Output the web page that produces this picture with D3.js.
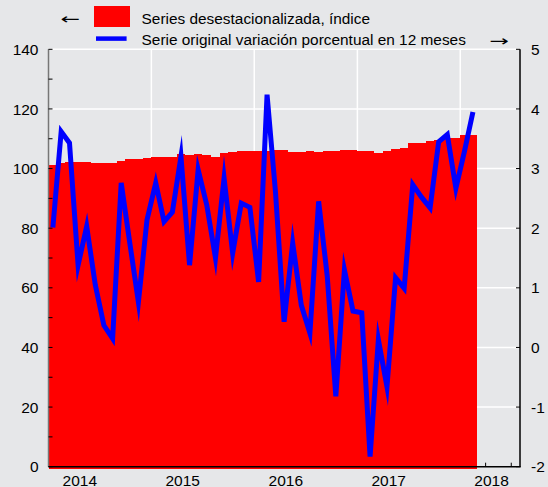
<!DOCTYPE html>
<html>
<head>
<meta charset="utf-8">
<script src="https://cdn.jsdelivr.net/npm/d3@7"></script>
<style>
  html, body { margin: 0; padding: 0; background: #e6e7e9; }
  svg { display: block; font-family: "Liberation Sans", Arial, sans-serif; }
</style>
</head>
<body>
<svg id="chart" width="548" height="487"></svg>
<script>
// first month of the data, monthly series
const startMonth = new Date(2014, 0, 1);

// Series desestacionalizada, indice (left axis)
const indexValues = [
  101.2, 102.0, 102.2, 102.3, 102.2, 101.9, 101.8, 101.9, 102.7, 103.2,
  103.3, 103.5, 103.9, 104.0, 103.8, 105.0, 104.7, 104.8, 104.6, 104.0,
  105.3, 105.6, 105.8, 105.9, 105.9, 105.8, 106.2, 106.1, 105.4, 105.6,
  105.8, 105.7, 105.9, 105.8, 106.3, 106.1, 105.9, 105.8, 105.3, 105.9,
  106.5, 107.0, 108.5, 108.7, 109.2, 109.5, 110.2, 110.3, 111.1, 111.2
];

// Serie original variacion porcentual en 12 meses (right axis)
const yoyValues = [
  2.01, 3.62, 3.43, 1.38, 2.03, 1.05, 0.37, 0.15, 2.76, 1.75,
  0.76, 2.14, 2.76, 2.11, 2.27, 3.20, 1.38, 2.98, 2.39, 1.50,
  2.84, 1.58, 2.42, 2.35, 1.10, 4.24, 2.60, 0.43, 1.75, 0.71,
  0.24, 2.45, 1.20, -0.82, 1.30, 0.61, 0.58, -1.83, 0.13, -0.66,
  1.17, 0.99, 2.73, 2.52, 2.34, 3.45, 3.57, 2.67, 3.30, 3.95
];

const yearLabels = ["2014", "2015", "2016", "2017", "2018"];
const leftTicks = [0, 20, 40, 60, 80, 100, 120, 140];
const rightTicks = [-2, -1, 0, 1, 2, 3, 4, 5];
const legendLabels = [
  "Series desestacionalizada, índice",
  "Serie original variación porcentual en 12 meses"
];

const months = indexValues.map((v, i) => d3.timeMonth.offset(startMonth, i));

const plotLeft = 48.5, plotRight = 520, plotTop = 49.3, plotBottom = 466.7;
const svg = d3.select("#chart");

svg.append("rect").attr("width", 548).attr("height", 487).attr("fill", "#e6e7e9");

const x = d3.scaleTime()
  .domain([startMonth, new Date(2018, 7, 1)])
  .range([plotLeft, plotRight]);
const yL = d3.scaleLinear().domain([0, 140]).range([plotBottom, plotTop]);
const yR = d3.scaleLinear().domain([-2, 5]).range([plotBottom, plotTop]);

const monthEnd = (d) => d3.timeMonth.offset(d, 1);
const midX = (d) => (x(d) + x(monthEnd(d))) / 2;

// grid
svg.append("g")
  .selectAll("line")
  .data(leftTicks.filter((t) => t > 0))
  .join("line")
  .attr("x1", plotLeft).attr("x2", plotRight)
  .attr("y1", (d) => yL(d)).attr("y2", (d) => yL(d))
  .attr("stroke", "#fff").attr("stroke-width", 1.5);

const yearStarts = yearLabels.map((y) => new Date(+y, 0, 1));
svg.append("g")
  .selectAll("line")
  .data(yearStarts.slice(1))
  .join("line")
  .attr("x1", (d) => x(d)).attr("x2", (d) => x(d))
  .attr("y1", plotTop).attr("y2", plotBottom)
  .attr("stroke", "#fff").attr("stroke-width", 1.5);

// quarterly ticks on the time axis
const quarters = d3.timeMonth.every(3).range(startMonth, x.domain()[1]);
svg.append("g")
  .selectAll("line")
  .data(quarters)
  .join("line")
  .attr("x1", (d) => x(d)).attr("x2", (d) => x(d))
  .attr("y1", plotBottom).attr("y2", plotBottom - 4)
  .attr("stroke", "#000").attr("stroke-width", 1);

// bars
svg.append("g")
  .attr("shape-rendering", "crispEdges")
  .selectAll("rect")
  .data(months)
  .join("rect")
  .attr("x", (d) => x(d))
  .attr("width", (d) => x(monthEnd(d)) - x(d))
  .attr("y", (d, i) => yL(indexValues[i]))
  .attr("height", (d, i) => yL(0) - yL(indexValues[i]) + 2)
  .attr("fill", "#ff0000");

// axes lines
svg.append("line")
  .attr("x1", plotLeft).attr("x2", plotLeft).attr("y1", plotTop).attr("y2", plotBottom)
  .attr("stroke", "#777").attr("stroke-width", 1.5);
svg.append("line")
  .attr("x1", plotRight).attr("x2", plotRight).attr("y1", plotTop).attr("y2", plotBottom)
  .attr("stroke", "#000").attr("stroke-width", 1.5);
svg.append("line")
  .attr("x1", plotLeft).attr("x2", plotRight + 0.75).attr("y1", plotBottom).attr("y2", plotBottom)
  .attr("stroke", "#000").attr("stroke-width", 1.5);

// left ticks every 10, inward
svg.append("g")
  .selectAll("line")
  .data(yL.ticks(14))
  .join("line")
  .attr("x1", plotLeft).attr("x2", plotLeft + 4)
  .attr("y1", (d) => yL(d)).attr("y2", (d) => yL(d))
  .attr("stroke", "#000").attr("stroke-width", 1);

// right ticks, inward
svg.append("g")
  .selectAll("line")
  .data(rightTicks)
  .join("line")
  .attr("x1", plotRight - 4).attr("x2", plotRight)
  .attr("y1", (d) => yR(d)).attr("y2", (d) => yR(d))
  .attr("stroke", "#000").attr("stroke-width", 1);

// blue line
const line = d3.line()
  .x((d) => midX(d))
  .y((d, i) => yR(yoyValues[i]));
svg.append("path")
  .datum(months)
  .attr("d", line)
  .attr("fill", "none")
  .attr("stroke", "#0000ff")
  .attr("stroke-width", 5)
  .attr("stroke-linejoin", "miter")
  .attr("stroke-miterlimit", 10);

// tick labels
svg.append("g")
  .selectAll("text")
  .data(leftTicks)
  .join("text")
  .attr("x", 38.5)
  .attr("y", (d) => yL(d))
  .attr("dy", "0.36em")
  .attr("text-anchor", "end")
  .attr("font-size", 15.5)
  .text((d) => d);

svg.append("g")
  .selectAll("text")
  .data(rightTicks)
  .join("text")
  .attr("x", 531)
  .attr("y", (d) => yR(d))
  .attr("dy", "0.36em")
  .attr("text-anchor", "start")
  .attr("font-size", 15.5)
  .text((d) => d);

svg.append("g")
  .selectAll("text")
  .data(yearLabels)
  .join("text")
  .attr("x", (d) => x(new Date(+d, 3, 22)))
  .attr("y", 485.5)
  .attr("text-anchor", "middle")
  .attr("font-size", 15.5)
  .text((d) => d);

// legend
const legend = svg.append("g").attr("font-size", 15.4);
legend.append("text")
  .attr("transform", "translate(70,23.5) scale(1.55,1)")
  .attr("text-anchor", "middle")
  .attr("font-family", "DejaVu Sans")
  .attr("font-size", 15).text("←");
legend.append("rect").attr("x", 94).attr("y", 6).attr("width", 36).attr("height", 21)
  .attr("fill", "#ff0000");
legend.append("text").attr("x", 141.6).attr("y", 23.8).text(legendLabels[0]);
legend.append("line").attr("x1", 96).attr("x2", 126.6).attr("y1", 38.6).attr("y2", 38.6)
  .attr("stroke", "#0000ff").attr("stroke-width", 4.5);
legend.append("text").attr("x", 141.6).attr("y", 44.8).text(legendLabels[1]);
legend.append("text")
  .attr("transform", "translate(499,45.5) scale(1.55,1)")
  .attr("text-anchor", "middle")
  .attr("font-family", "DejaVu Sans")
  .attr("font-size", 15).text("→");
</script>
</body>
</html>
